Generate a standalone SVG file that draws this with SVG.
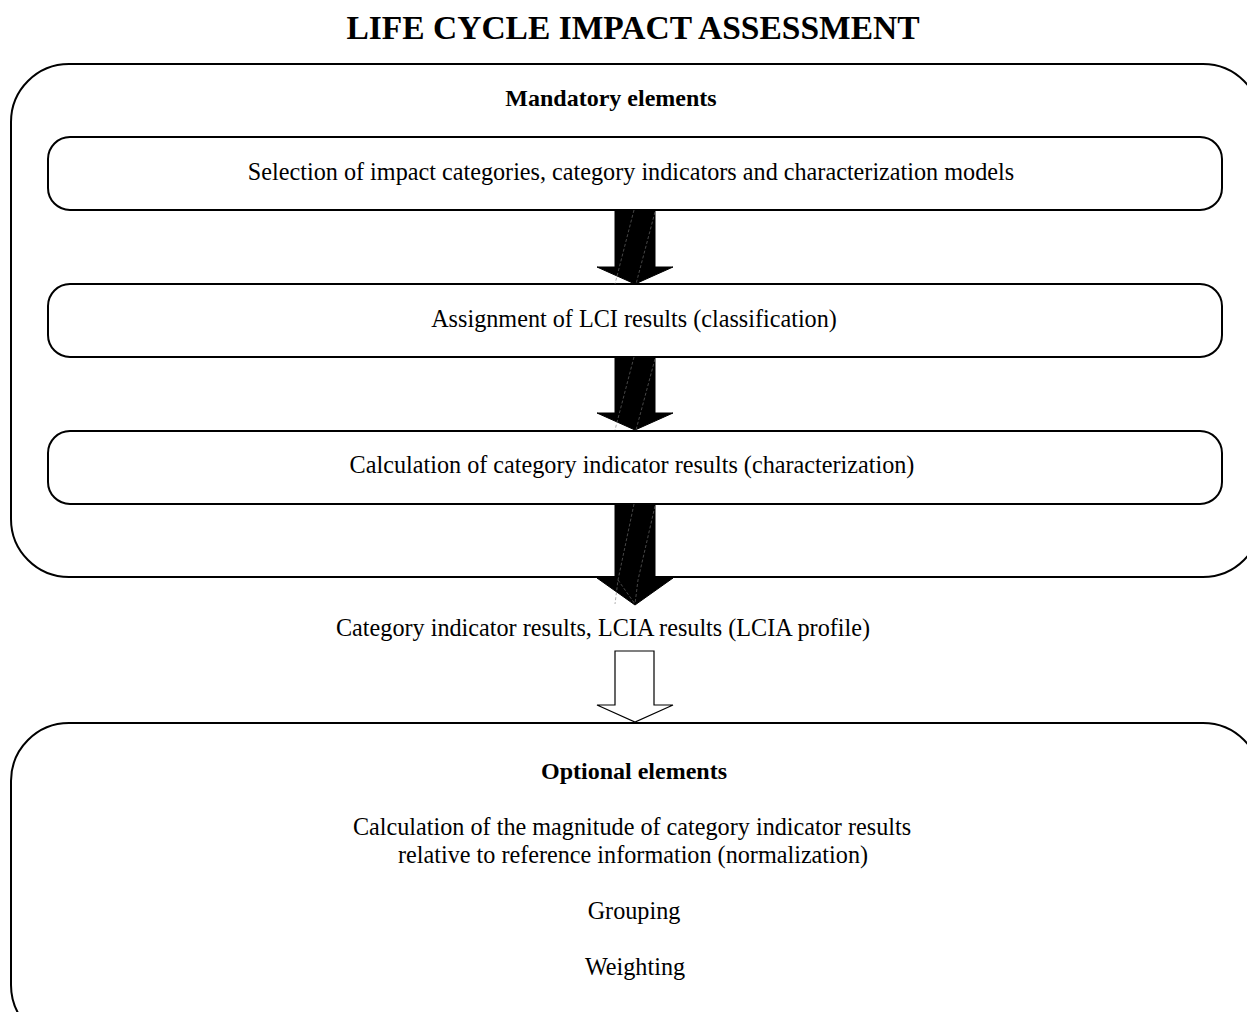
<svg xmlns="http://www.w3.org/2000/svg" width="1247" height="1012" viewBox="0 0 1247 1012">
  <style>
    text { font-family: "Liberation Serif", "Times New Roman", serif; fill: #000; text-anchor: middle; }
    .title { font-size: 33.5px; font-weight: bold; }
    .head { font-size: 24px; font-weight: bold; }
    .lbl { font-size: 24.2px; }
    .frame { fill: none; stroke: #000; stroke-width: 2; }
    .box { fill: #fff; stroke: #000; stroke-width: 2; }
    .solid { fill: #000; stroke: #000; stroke-width: 1; }
    .seam { fill: none; stroke: #777; stroke-width: 0.6; stroke-dasharray: 3 2; }
    .hollow { fill: #fff; stroke: #000; stroke-width: 1.2; }
  </style>

  <rect width="1247" height="1012" fill="#fff"/>

  <text class="title" x="633" y="39">LIFE CYCLE IMPACT ASSESSMENT</text>

  <!-- mandatory frame -->
  <g id="mandatory">
    <rect class="frame" x="11" y="64" width="1250" height="513" rx="58" ry="58"/>
    <text class="head" x="611" y="106">Mandatory elements</text>
  </g>

  <g id="selection">
    <rect class="box" x="48" y="137" width="1174" height="73" rx="22" ry="22"/>
    <text class="lbl" x="631" y="180">Selection of impact categories, category indicators and characterization models</text>
  </g>

  <g id="classification">
    <rect class="box" x="48" y="284" width="1174" height="73" rx="22" ry="22"/>
    <text class="lbl" x="634" y="327">Assignment of LCI results (classification)</text>
  </g>

  <g id="characterization">
    <rect class="box" x="48" y="431" width="1174" height="73" rx="22" ry="22"/>
    <text class="lbl" x="632" y="473">Calculation of category indicator results (characterization)</text>
  </g>

  <g id="profile">
    <text class="lbl" x="603" y="636">Category indicator results, LCIA results (LCIA profile)</text>
  </g>

  <!-- optional frame -->
  <g id="optional">
    <rect class="frame" x="11" y="723" width="1250" height="320" rx="58" ry="58"/>
    <text class="head" x="634" y="779">Optional elements</text>
    <text class="lbl" x="632" y="835">Calculation of the magnitude of category indicator results</text>
    <text class="lbl" x="633" y="863">relative to reference information (normalization)</text>
    <text class="lbl" x="634" y="919">Grouping</text>
    <text class="lbl" x="635" y="975">Weighting</text>
  </g>

  <!-- block arrows between the steps -->
  <g id="connectors">
    <path class="solid" d="M615,210 H655 V267 H673 L635,284 L597,267 H615 Z"/>
    <path class="seam" d="M634,210 L615,284 M655,212 L636,284"/>
    <path class="solid" d="M615,357 H655 V413 H673 L635,430 L597,413 H615 Z"/>
    <path class="seam" d="M634,357 L615,430 M655,359 L636,430"/>
    <path class="solid" d="M615,504 H655 V578 H673 L635,605 L597,578 H615 Z"/>
    <path class="seam" d="M634,504 L618,580 L615,604 M655,506 L638,580 L635,604 M618,580 L635,604"/>
    <path class="hollow" d="M615,651 H654 V705 H673 L635,722 L597,705 H615 Z"/>
  </g>
</svg>
